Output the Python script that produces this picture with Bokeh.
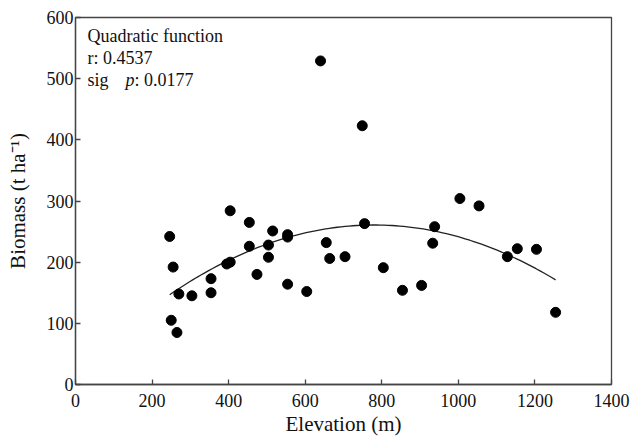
import numpy as np
from bokeh.plotting import figure
from bokeh.models import Range1d, Label, FixedTicker
from bokeh.embed import file_html
from bokeh.resources import INLINE

# Data
elevation = [246, 255, 250, 265, 270, 304, 354, 354, 395, 404, 404, 454, 454, 474,
             504, 504, 515, 554, 554, 554, 604, 640, 655, 664, 704, 749, 755, 804,
             854, 904, 933, 938, 1004, 1054, 1128, 1154, 1204, 1254]
biomass = [242, 192, 105, 85, 148, 145, 173, 150, 197, 200, 284, 265, 226, 180,
           228, 208, 251, 245, 241, 164, 152, 529, 232, 206, 209, 423, 263, 191,
           154, 162, 231, 258, 304, 292, 209, 222, 221, 118]

x_ticks = [0, 200, 400, 600, 800, 1000, 1200, 1400]
y_ticks = [0, 100, 200, 300, 400, 500, 600]

# Quadratic fit of the data (the curve in the chart)
coef = np.polyfit(elevation, biomass, 2)
fit_x = np.linspace(min(elevation), max(elevation), 100)
fit_y = np.polyval(coef, fit_x)

FONT = "Liberation Serif"

p = figure(width=630, height=440, output_backend="svg", toolbar_location=None,
           x_range=Range1d(0, 1400), y_range=Range1d(0, 600),
           min_border_left=75, min_border_top=17, min_border_right=19, min_border_bottom=56)
p.frame_width = 536
p.frame_height = 367

p.grid.visible = False
p.outline_line_color = "#444444"
p.outline_line_width = 1.3

for ax in (p.xaxis[0], p.yaxis[0]):
    ax.axis_line_color = "#444444"
    ax.axis_line_width = 1.3
    ax.major_tick_in = 5
    ax.major_tick_out = 0
    ax.major_tick_line_color = "#444444"
    ax.major_tick_line_width = 1.3
    ax.minor_tick_line_color = None
    ax.major_label_text_font = FONT
    ax.major_label_text_font_size = "18px"
    ax.major_label_text_color = "#111111"
    ax.axis_label_text_font = FONT
    ax.axis_label_text_font_size = "21px"
    ax.axis_label_text_font_style = "normal"
    ax.axis_label_text_color = "#111111"

p.xaxis.ticker = FixedTicker(ticks=x_ticks)
p.yaxis.ticker = FixedTicker(ticks=y_ticks)
p.xaxis.axis_label = "Elevation (m)"
p.yaxis.axis_label = "Biomass (t ha\u207b\u00b9)"
p.xaxis.major_label_standoff = 9
p.yaxis.major_label_standoff = 2
p.xaxis.axis_label_standoff = 2
p.yaxis.axis_label_standoff = 14

p.line(fit_x, fit_y, line_color="#222222", line_width=1.3)
p.scatter(elevation, biomass, size=10, color="black")

base = 367 - 28
lines = ["Quadratic function", "r: 0.4537"]
for i, t in enumerate(lines):
    p.add_layout(Label(x=12, y=base - 22 * i, x_units="screen", y_units="screen",
                       text=t, text_font=FONT, text_font_size="18px", text_color="#111111"))
p.add_layout(Label(x=12, y=base - 44, x_units="screen", y_units="screen",
                   text="sig", text_font=FONT, text_font_size="18px", text_color="#111111"))
p.add_layout(Label(x=50, y=base - 44, x_units="screen", y_units="screen",
                   text="p", text_font=FONT, text_font_size="18px", text_font_style="italic",
                   text_color="#111111"))
p.add_layout(Label(x=59, y=base - 44, x_units="screen", y_units="screen",
                   text=": 0.0177", text_font=FONT, text_font_size="18px", text_color="#111111"))

open("out.html", "w").write(file_html(p, INLINE))
